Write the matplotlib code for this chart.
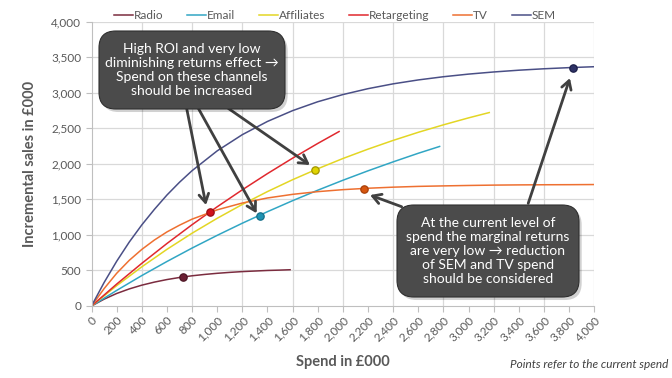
import matplotlib
matplotlib.use("Agg")
import matplotlib.pyplot as plt
from matplotlib.patches import FancyBboxPatch
from matplotlib.ticker import FuncFormatter

plt.rcParams['font.family'] = ['Lato', 'DejaVu Sans']

# spend (£000) and incremental sales (£000)
radio_spend = [0, 100, 200, 300, 400, 500, 600, 700, 800, 900, 1000, 1100, 1200, 1300, 1400, 1500, 1580]
radio_sales = [0, 96, 176, 240, 293, 336, 372, 401, 425, 444, 460, 473, 484, 492, 500, 505, 510]

email_spend = [0, 200, 400, 600, 800, 1000, 1200, 1400, 1600, 1800, 2000, 2200, 2400, 2600, 2770]
email_sales = [0, 219, 428, 626, 815, 994, 1165, 1327, 1482, 1629, 1769, 1902, 2028, 2149, 2245]

affil_spend = [0, 200, 400, 600, 800, 1000, 1200, 1400, 1600, 1800, 2000, 2200, 2400, 2600, 2800, 3000, 3165]
affil_sales = [0, 286, 551, 797, 1024, 1234, 1429, 1610, 1777, 1931, 2075, 2207, 2330, 2444, 2549, 2647, 2722]

retarg_spend = [0, 200, 400, 600, 800, 1000, 1200, 1400, 1600, 1800, 1970]
retarg_sales = [0, 308, 600, 879, 1144, 1396, 1635, 1863, 2080, 2287, 2455]

tv_spend = [0, 100, 200, 300, 400, 500, 600, 700, 800, 1000, 1200, 1400, 1600, 1800, 2000, 2200,
            2400, 2600, 2800, 3000, 3200, 3400, 3600, 3800, 4000]
tv_sales = [0, 244, 460, 642, 796, 928, 1042, 1137, 1222, 1353, 1449, 1520, 1571, 1609, 1637, 1657,
            1672, 1683, 1690, 1696, 1701, 1704, 1706, 1707, 1709]

sem_spend = [0, 100, 200, 300, 400, 500, 600, 700, 800, 1000, 1200, 1400, 1600, 1800, 2000, 2200,
             2400, 2600, 2800, 3000, 3200, 3400, 3600, 3800, 4000]
sem_sales = [0, 330, 629, 899, 1141, 1359, 1561, 1741, 1904, 2183, 2411, 2597, 2749, 2874, 2975, 3058,
             3126, 3181, 3226, 3263, 3293, 3318, 3338, 3354, 3367]

# current spend points
names = ['Radio', 'Email', 'Affiliates', 'Retargeting', 'TV', 'SEM']
current_spend = [725, 1338, 1776, 940, 2170, 3833]
current_sales = [407, 1268, 1913, 1322, 1645, 3345]

line_colors = ['#7b2c3f', '#31a6c4', '#e3d624', '#e0282e', '#ee7031', '#4a4f86']
dot_colors = ['#6b1f33', '#1e93b3', '#e0d400', '#d0121c', '#d8560e', '#2e3266']
dot_edges = ['#4d1524', '#146e88', '#a09400', '#9a0c14', '#a84008', '#1c1f48']

series = [(radio_spend, radio_sales), (email_spend, email_sales), (affil_spend, affil_sales),
          (retarg_spend, retarg_sales), (tv_spend, tv_sales), (sem_spend, sem_sales)]

fig = plt.figure(figsize=(6.72, 3.78), dpi=100)
ax = fig.add_axes([0.1362, 0.1905, 0.748, 0.752])

grid_col = '#d9d9d9'
text_col = '#595959'

for g in range(400, 4001, 400):
    ax.axvline(g, color=grid_col, lw=0.9, zorder=0)
for g in range(500, 4001, 500):
    ax.axhline(g, color=grid_col, lw=0.9, zorder=0)

for (sx, sy), name, c in zip(series, names, line_colors):
    ax.plot(sx, sy, color=c, lw=1.1, label=name, zorder=2)

for i in range(len(names)):
    ax.plot(current_spend[i], current_sales[i], 'o', ms=5.3, color=dot_colors[i],
            mec=dot_edges[i], mew=0.9, zorder=3)

ax.set_xlim(0, 4000)
ax.set_ylim(0, 4000)
ax.set_xticks(range(0, 4001, 200))
ax.set_yticks(range(0, 4001, 500))
fmt = FuncFormatter(lambda v, p: f'{int(v):,}')
ax.xaxis.set_major_formatter(fmt)
ax.yaxis.set_major_formatter(fmt)
ax.tick_params(axis='x', labelsize=8.5, colors='#bfbfbf', labelcolor=text_col, length=4,
               labelrotation=45, pad=2)
ax.tick_params(axis='y', labelsize=8.5, colors='#bfbfbf', labelcolor=text_col, length=4)
for lab in ax.get_xticklabels():
    lab.set_ha('right')
    lab.set_rotation_mode('anchor')

for s in ['top', 'right']:
    ax.spines[s].set_visible(False)
ax.spines['left'].set_color('#bfbfbf')
ax.spines['bottom'].set_color('#bfbfbf')

ax.set_xlabel('Spend in £000', fontsize=10.5, fontweight='bold', color=text_col, labelpad=8)
ax.set_ylabel('Incremental sales in £000', fontsize=10.5, fontweight='bold', color=text_col,
              labelpad=10)

leg = ax.legend(loc='lower center', bbox_to_anchor=(0.484, 0.985), ncol=6, frameon=False,
                fontsize=8.5, handlelength=1.6, handletextpad=0.1, columnspacing=2.0,
                borderaxespad=0)
for t in leg.get_texts():
    t.set_color(text_col)

# annotation arrows
arrow_kw = dict(arrowstyle='->,head_length=0.6,head_width=0.35', lw=2, color='#404040',
                shrinkA=0, shrinkB=0)
for start, tip in [((757, 2781), (911, 1420)), ((850, 2781), (1314, 1304)),
                   ((1088, 2781), (1738, 1983)), ((2468, 1397), (2216, 1561)),
                   ((3475, 1444), (3807, 3207))]:
    ax.annotate('', xy=tip, xytext=start, arrowprops=arrow_kw, zorder=4)


def callout(x0, y0, x1, y1, text):
    # box given in figure pixels
    W, H = 672.0, 378.0
    shadow = FancyBboxPatch((x0 / W + 0.004, 1 - y1 / H - 0.008), (x1 - x0) / W, (y1 - y0) / H,
                            boxstyle='round,pad=0,rounding_size=0.025', transform=fig.transFigure,
                            fc='#000000', ec='none', alpha=0.18, zorder=5,
                            mutation_aspect=672 / 378)
    box = FancyBboxPatch((x0 / W, 1 - y1 / H), (x1 - x0) / W, (y1 - y0) / H,
                         boxstyle='round,pad=0,rounding_size=0.025', transform=fig.transFigure,
                         fc='#4b4b4b', ec='#2f2f2f', lw=0.8, zorder=6,
                         mutation_aspect=672 / 378)
    fig.patches.extend([shadow, box])
    fig.text((x0 + x1) / 2 / W, 1 - (y0 + y1) / 2 / H, text, ha='center', va='center',
             color='white', fontsize=10, linespacing=1.2, zorder=7,
             family=['Lato', 'DejaVu Sans'])


callout(99, 31, 285, 109,
        'High ROI and very low\ndiminishing returns effect \u2192\nSpend on these channels\nshould be increased')
callout(397, 205, 579, 297,
        'At the current level of\nspend the marginal returns\nare very low \u2192 reduction\nof SEM and TV spend\nshould be considered')

fig.text(0.994, 0.02, 'Points refer to the current spend', ha='right', va='bottom',
         fontsize=8.5, style='italic', color='#404040')

fig.savefig('out.png', dpi=100)
